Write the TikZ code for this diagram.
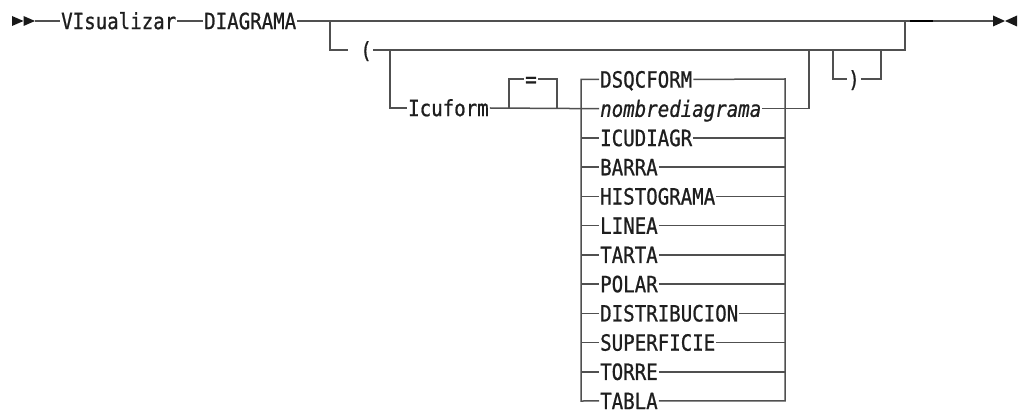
\documentclass[tikz,border=0pt]{standalone}
\usepackage{fontspec}
\newfontfamily\rrfont[FakeStretch=0.853,FakeBold=0.8]{DejaVu Sans Mono}
\definecolor{railgray}{HTML}{505050}
\definecolor{textdark}{HTML}{1E1E1E}
\tikzset{
  rail/.style={draw=railgray, line width=1.5pt, line join=miter},
  lbl/.style={font=\rrfont\fontsize{22.4}{24}\selectfont, text=textdark,
    inner xsep=1pt, inner ysep=0pt, text height=16.3pt, text depth=0pt, anchor=west},
  tip/.style={fill=black!90, draw=none}
}
\begin{document}
\begin{tikzpicture}[x=1pt,y=-1pt]
\useasboundingbox (0,0) rectangle (1019,411);
% coordinates
\coordinate (s) at (35,21);
\coordinate (j1) at (330,21);
\coordinate (j3) at (390,50);
\coordinate (eqa) at (509,108);
\coordinate (eqd) at (557,108);
\coordinate (outt) at (809,50);
\coordinate (pa) at (833,50);
\coordinate (pd) at (881,50);
\coordinate (j2) at (905,21);
\coordinate (k1) at (910,21);
\coordinate (k2) at (933,21);
\coordinate (e) at (993,21);
% labels
\node[lbl] (vis) at (60,21) {VIsualizar};
\node[lbl] (dia) at (203,21) {DIAGRAMA};
\node[lbl, anchor=east] (lp) at (373,50) {\phantom{(}(};
\node[lbl] (icu) at (407,108) {Icuform};
\node[lbl, anchor=center] (eq) at (531,79) {=};
\node[lbl, anchor=center] (rp) at (854,79) {)};
\foreach \k/\t in {2/DSQCFORM, 3/\textit{nombrediagrama}, 4/ICUDIAGR, 5/BARRA,
  6/HISTOGRAMA, 7/LINEA, 8/TARTA, 9/POLAR, 10/DISTRIBUCION, 11/SUPERFICIE,
  12/TORRE, 13/TABLA}
  \node[lbl] (it\k) at (599,{21+29.23*\k}) {\t};
% start and end tips
\fill[tip] (12,16) -- (23.5,21) -- (12,26) -- cycle;
\fill[tip] (23.5,16) -- (35,21) -- (23.5,26) -- cycle;
\fill[tip] (993,15.5) -- (1005,21) -- (993,26.5) -- cycle;
\fill[tip] (1017,15.5) -- (1005,21) -- (1017,26.5) -- cycle;
% main line
\draw[rail] (s) -- (vis.west);
\draw[rail] (vis.east) -- (dia.west);
\draw[rail] (dia.east) -- (e);
\draw[draw=black, line width=1.9pt] (k1) -- (k2);
% optional group
\draw[rail] (j1) |- (lp.west);
\draw[rail] (lp.east) -| (j2);
\draw[rail] (j3) |- (icu.west);
\draw[rail] (icu.east) -- (it3.west);
\draw[rail] (eqa) |- (eq.west);
\draw[rail] (eq.east) -| (eqd);
% choice column
\draw[rail] (it2.west) -| (581,401) -- (it13.west);
\draw[rail] (it2.east) -- (785,79) |- (it13.east);
\foreach \k in {4,...,12}
  \draw[rail] (581,{21+29.23*\k}) -- (it\k.west) (it\k.east) -- (785,{21+29.23*\k});
\draw[rail] (it3.east) -| (outt);
% optional close paren
\draw[rail] (pa) |- (rp.west);
\draw[rail] (rp.east) -| (pd);
\end{tikzpicture}
\end{document}
